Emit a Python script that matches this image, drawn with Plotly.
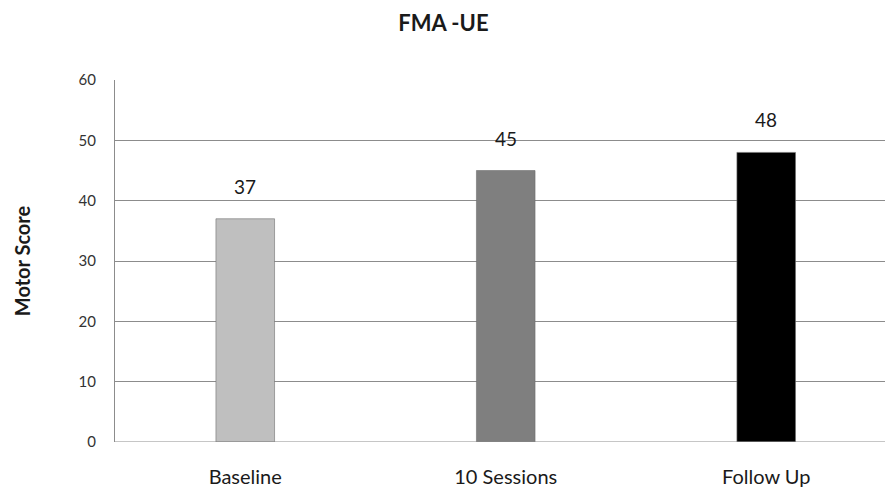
import plotly.graph_objects as go

# Fugl-Meyer upper-extremity motor scores at each assessment point
categories = ["Baseline", "10 Sessions", "Follow Up"]
scores = [37, 45, 48]
bar_colors = ["#BFBFBF", "#7F7F7F", "#000000"]
y_ticks = [0, 10, 20, 30, 40, 50, 60]

FONT = "Lato, 'Open Sans', sans-serif"

fig = go.Figure()
fig.add_trace(go.Bar(
    x=categories,
    y=scores,
    width=0.225,
    marker=dict(color=bar_colors, line=dict(color="#6f6f6f", width=0.6)),
    hoverinfo="x+y",
))

# Value labels above each bar
for cat, val in zip(categories, scores):
    fig.add_annotation(
        x=cat, y=val, text=str(val), showarrow=False,
        yanchor="bottom", yshift=19,
        font=dict(family=FONT, size=19, color="#1a1a1a"),
    )

fig.update_layout(
    width=885, height=488,
    margin=dict(l=115, r=0, t=80, b=46),
    paper_bgcolor="white", plot_bgcolor="white",
    showlegend=False,
    title=dict(
        text="<b>FMA -UE</b>", x=0.501, xanchor="center", y=0.952, yanchor="middle",
        font=dict(family=FONT, size=22, color="#1a1a1a"),
    ),
    xaxis=dict(
        type="category", range=[-0.5, 2.456], automargin=False,
        showgrid=False, showline=False, zeroline=False, ticks="",
        ticklabelstandoff=21,
        tickfont=dict(family=FONT, size=20, color="#1a1a1a"),
    ),
    yaxis=dict(
        range=[0, 60], tickvals=y_ticks, automargin=False,
        showgrid=True, gridcolor="#8c8c8c", gridwidth=1,
        showline=True, linecolor="#8c8c8c", linewidth=1,
        zeroline=False, ticks="",
        ticklabelstandoff=15,
        tickfont=dict(family=FONT, size=15, color="#333333"),
        title=dict(
            text="<b>Motor Score</b>", standoff=42,
            font=dict(family=FONT, size=20, color="#1a1a1a"),
        ),
    ),
)
# Baseline of the chart at 0
fig.add_shape(type="line", xref="paper", yref="y", x0=0, x1=1, y0=0, y1=0,
              line=dict(color="#8c8c8c", width=1))

fig.write_html("out.html")
